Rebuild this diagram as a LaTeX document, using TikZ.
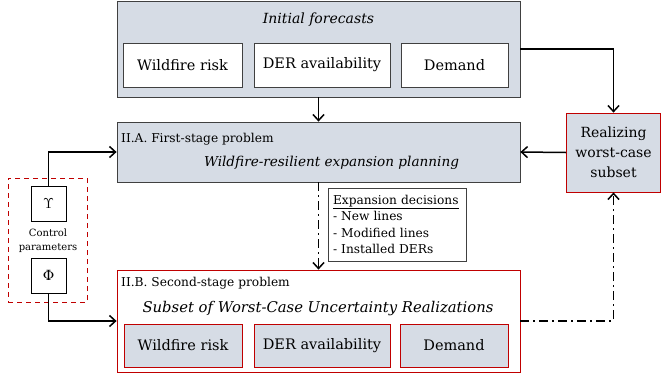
\documentclass[tikz,border=0pt]{standalone}
\usepackage{fontspec}
\setmainfont{DejaVu Serif}
\usepackage{tikz}
\usetikzlibrary{arrows.meta}
\usetikzlibrary{positioning}
\definecolor{boxgray}{HTML}{D6DCE5}
\definecolor{boxred}{HTML}{C00000}
\definecolor{boxline}{HTML}{404040}
\tikzset{
    panel/.style={draw=boxline, line width=0.8pt, fill=boxgray},
    redpanel/.style={draw=boxred, line width=0.8pt, fill=white},
    item/.style={draw=boxline, line width=0.8pt, fill=white, minimum height=44pt,
        font=\fontsize{14.5}{17}\selectfont},
    reditem/.style={draw=boxred, line width=0.8pt, fill=boxgray, minimum height=43pt,
        font=\fontsize{14.5}{17}\selectfont},
    param/.style={draw=black, line width=0.8pt, fill=white, minimum width=35pt,
        minimum height=35pt, font=\fontsize{14}{16}\selectfont},
    conn/.style={draw=black, line width=1.5pt, -{Straight Barb[length=6pt,width=11pt]}},
    dashdot/.style={conn, dash pattern=on 9pt off 4pt on 2pt off 4pt},
    heading/.style={font=\fontsize{12.2}{14}\selectfont, anchor=west, inner sep=0pt},
    title/.style={font=\fontsize{14}{16}\selectfont\itshape},
}
\begin{document}
\begin{tikzpicture}[x=1pt, y=-1pt]
    \useasboundingbox (0,0) rectangle (661,381);
%
    % initial forecasts
    \node[panel, minimum width=403pt, minimum height=96pt] (fcst) at (318.5,49) {};
    \node[title] (fcsttitle) at (318.5,20) {Initial forecasts};
    \node[item, minimum width=119pt] (risk1) at (182.5,65) {Wildfire risk};
    \node[item, minimum width=136pt] (der1) at (322,65) {DER availability};
    \node[item, minimum width=107pt] (dem1) at (454.5,65) {Demand};
%
    % first-stage problem
    \node[panel, minimum width=403pt, minimum height=60pt] (first) at (318.5,152) {};
    \node[heading] (firsthead) at (121,139) {II.A. First-stage problem};
    \node[title, font=\fontsize{13.6}{16}\selectfont\itshape] (firsttitle) at (331.5,163)
        {Wildfire-resilient expansion planning};
%
    % second-stage problem
    \node[redpanel, minimum width=403pt, minimum height=102pt] (second) at (318.5,321) {};
    \node[heading] (secondhead) at (121,283) {II.B. Second-stage problem};
    \node[title, font=\fontsize{14.8}{16}\selectfont\itshape] (secondtitle) at (318,309)
        {Subset of Worst-Case Uncertainty Realizations};
    \node[reditem, minimum width=118pt] (risk2) at (183,345.5) {Wildfire risk};
    \node[reditem, minimum width=136pt] (der2) at (322,345.5) {DER availability};
    \node[reditem, minimum width=108pt] (dem2) at (454,345.5) {Demand};
%
    % worst-case subset
    \node[draw=boxred, line width=0.8pt, fill=boxgray, minimum width=94pt, minimum height=79pt,
        align=center, font=\fontsize{14}{20}\selectfont] (real) at (613.5,152.5)
        {Realizing\\worst-case\\subset};
%
    % expansion decisions
    \node[draw=boxline, line width=0.8pt, fill=white, text width=128pt, inner sep=5pt,
        minimum height=73pt, align=left, font=\fontsize{12.2}{16.5}\selectfont] (expn)
        at (397,224.5)
        {\underline{Expansion decisions}\\- New lines\\- Modified lines\\- Installed DERs};
%
    % control parameters
    \node[draw=boxred, line width=1pt, dash pattern=on 5pt off 4pt, minimum width=79pt,
        minimum height=124pt] (ctrl) at (47.5,240) {};
    \node[param] (ups) at (48.5,203.5) {$\Upsilon$};
    \node[param] (phi) at (48.5,275.5) {Φ};
    \node[align=center, font=\fontsize{10}{14}\selectfont] (ctrltext) at (48,241)
        {Control\\parameters};
%
    \draw[conn] (fcst.south) -- (first.north);
    \draw[conn] (fcst.east) -| (real.north);
    \draw[conn] (real.west) -- (first.east);
    \draw[dashdot] (first.south) -- (second.north);
    \draw[dashdot] (second.east) -| (real.south);
    \draw[conn] (ups.north) |- (first.west);
    \draw[conn] (phi.south) |- (second.west);
\end{tikzpicture}
\end{document}
